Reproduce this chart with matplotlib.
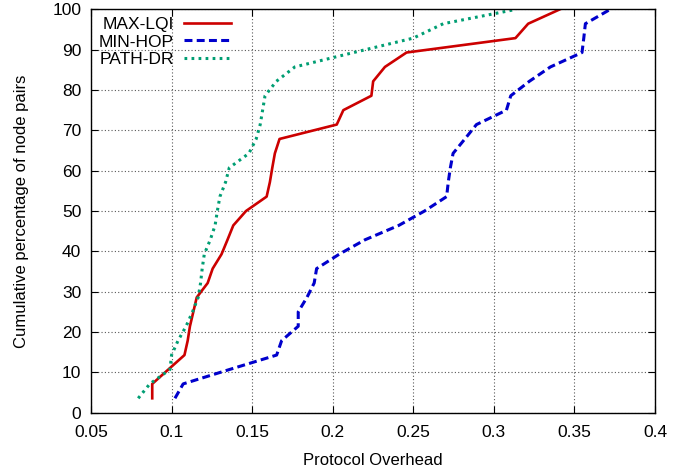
import matplotlib
matplotlib.use("Agg")
import matplotlib.pyplot as plt
import numpy as np

plt.rcParams['font.family'] = ['Liberation Sans', 'DejaVu Sans']

# Cumulative percentage levels (28 node pairs)
percent = [100.0 * k / 28 for k in range(1, 29)]

max_lqi = [0.088, 0.088, 0.098, 0.108, 0.110, 0.1114, 0.1135, 0.1156, 0.1224, 0.1255,
           0.131, 0.1347, 0.1383, 0.1462, 0.159, 0.161, 0.1625, 0.1641, 0.167, 0.2025,
           0.2066, 0.224, 0.2251, 0.2324, 0.2458, 0.3134, 0.3213, 0.341]

min_hop = [0.1021, 0.1072, 0.136, 0.1652, 0.1683, 0.1786, 0.1786, 0.184, 0.1885, 0.190,
           0.204, 0.220, 0.241, 0.257, 0.2707, 0.2717, 0.273, 0.2747, 0.282, 0.2892,
           0.3078, 0.3105, 0.322, 0.3351, 0.3547, 0.3558, 0.3568, 0.3723]

path_dr = [0.0793, 0.0865, 0.099, 0.100, 0.104, 0.109, 0.113, 0.1165, 0.118, 0.119,
           0.1203, 0.124, 0.127, 0.1284, 0.130, 0.1335, 0.1358, 0.148, 0.1525, 0.155,
           0.1565, 0.158, 0.165, 0.1765, 0.213, 0.25, 0.2686, 0.314]

x_ticks = [0.05, 0.1, 0.15, 0.2, 0.25, 0.3, 0.35, 0.4]
x_tick_labels = ["0.05", "0.1", "0.15", "0.2", "0.25", "0.3", "0.35", "0.4"]
y_ticks = [0, 10, 20, 30, 40, 50, 60, 70, 80, 90, 100]

fig = plt.figure(figsize=(6.89, 4.68), dpi=100)
ax = fig.add_axes([91/689, 1 - 412.7/468, (655 - 91)/689, (412.7 - 9.3)/468])

ax.plot(max_lqi, percent, color='#cc0000', lw=1.9, ls='-', label='MAX-LQI')
ax.plot(min_hop, percent, color='#0000cc', lw=2.2, ls=(0, (2.6, 1.4)), label='MIN-HOP')
ax.plot(path_dr, percent, color='#009e73', lw=2.2, ls=(0, (0.9, 1.4)), label='PATH-DR')

ax.set_xlim(0.05, 0.4)
ax.set_ylim(0, 100)
ax.set_xticks(x_ticks)
ax.set_xticklabels(x_tick_labels)
ax.set_yticks(y_ticks)
ax.tick_params(direction='in', length=5, width=0.8, top=True, right=True,
               labelsize=12.5, colors='black')
ax.tick_params(axis='x', pad=9)
ax.tick_params(axis='y', pad=7)
ax.grid(True, color='0.35', lw=0.8, ls=(0, (1, 2)))
for s in ax.spines.values():
    s.set_linewidth(1.0)

ax.set_xlabel('Protocol Overhead', fontsize=12, labelpad=9)
ax.set_ylabel('Cumulative percentage of node pairs', fontsize=12, labelpad=17)

leg = ax.legend(loc='upper left', markerfirst=False, frameon=False, fontsize=12.5,
                labelspacing=0.12, handlelength=2.7, handletextpad=0.6,
                borderaxespad=0.25, borderpad=0.2)

fig.savefig('out.png', dpi=100)
